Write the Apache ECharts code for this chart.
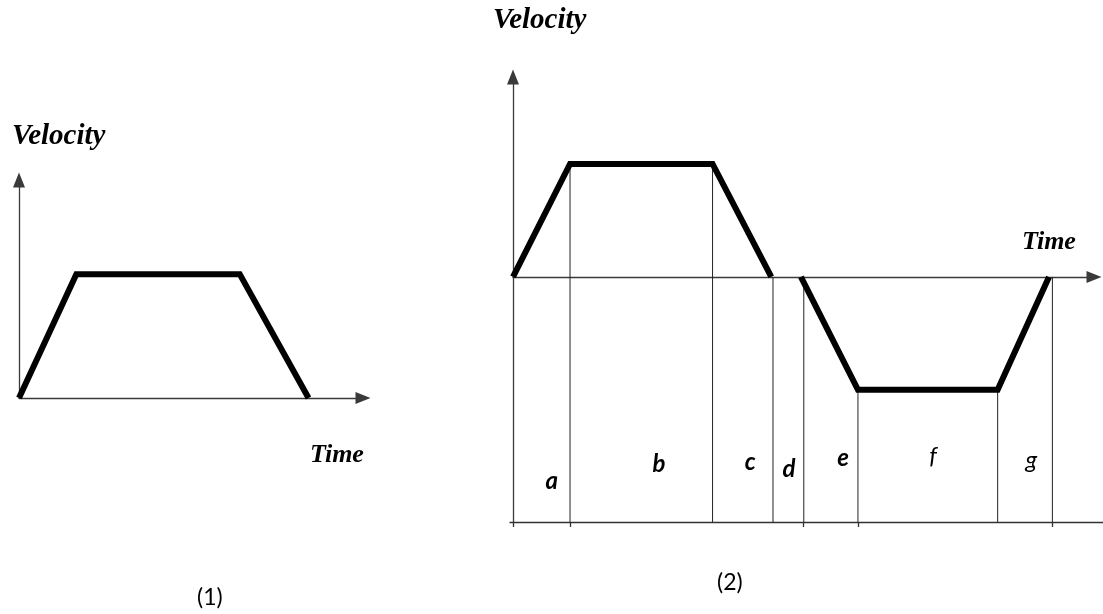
<!DOCTYPE html>
<html>
<head>
<meta charset="utf-8">
<script src="https://cdn.jsdelivr.net/npm/echarts@6/dist/echarts.min.js"></script>
<style>
  html, body { margin: 0; padding: 0; background: #fff; }
  #chart { width: 1103px; height: 614px; }
</style>
</head>
<body>
<div id="chart"></div>
<script>
// profile (1): simple trapezoid
var time1 = [0, 1, 3.85, 5.05];
var vel1 = [0, 1, 1, 0];

// profile (2): forward move then reverse move
var time2 = [0, 1, 3.5, 4.53, '-', 5.05, 6.05, 8.5, 9.4];
var vel2 = [0, 1, 1, 0, '-', 0, -1, -1, 0];

// phase boundaries of profile (2) and where each drop line starts
var phaseT = [1, 3.5, 4.56, 5.1, 6.05, 8.5, 9.46];
var phaseTop = [1, 1, 0, 0, -1, -1, 0];
var tickT = [0, 1, 5.1, 6.05, 9.46];

// phase names and where they sit
var phaseNames = ['a', 'b', 'c', 'd', 'e', 'f', 'g'];
var phaseX = [0.68, 2.56, 4.16, 4.84, 5.79, 7.37, 9.09];
var phaseY = [-1.81, -1.66, -1.64, -1.70, -1.61, -1.59, -1.62];
var phaseBold = [true, true, true, true, true, false, false];

var Y2MIN = -2.17;
var axisGrey = '#3a3a3a';

var myChart = echarts.init(document.getElementById('chart'));

var zip = function(xs, ys) {
    return xs.map(function(x, i) {
        return (x === '-' ? ['-', '-'] : [x, ys[i]]);
    });
};

var arrowAxis = function() {
    return {
        show: true,
        onZero: true,
        symbol: ['none', 'triangle'],
        symbolSize: [12, 15],
        lineStyle: { color: axisGrey, width: 1.3 }
    };
};

var series = [];

series.push({
    type: 'line',
    xAxisIndex: 0, yAxisIndex: 0,
    data: zip(time1, vel1),
    symbol: 'none',
    lineStyle: { color: '#000', width: 6, join: 'miter', cap: 'butt' },
    animation: false
});

series.push({
    type: 'line',
    xAxisIndex: 1, yAxisIndex: 1,
    data: zip(time2, vel2),
    symbol: 'none',
    connectNulls: false,
    lineStyle: { color: '#000', width: 6, join: 'miter', cap: 'butt' },
    animation: false,
    z: 5
});

phaseT.forEach(function(t, i) {
    series.push({
        type: 'line',
        xAxisIndex: 1, yAxisIndex: 1,
        data: [[t, phaseTop[i]], [t, Y2MIN]],
        symbol: 'none',
        lineStyle: { color: '#222', width: 1 },
        animation: false,
        z: 1
    });
});

series.push({
    type: 'scatter',
    xAxisIndex: 1, yAxisIndex: 1,
    symbolSize: 1,
    itemStyle: { color: '#fff', opacity: 1 },
    data: phaseNames.map(function(n, i) {
        return {
            name: n,
            value: [phaseX[i], phaseY[i]],
            label: {
                fontWeight: phaseBold[i] ? 'bold' : 'normal'
            }
        };
    }),
    label: {
        show: true,
        position: 'inside',
        formatter: '{b}',
        color: '#000',
        opacity: 1,
        fontFamily: 'Lato',
        fontStyle: 'italic',
        fontSize: 24
    },
    emphasis: { disabled: true },
    animation: false,
    z: 6
});

var titleStyle = {
    fontFamily: 'Liberation Serif',
    fontStyle: 'italic',
    fontWeight: 'bold',
    fontSize: 26,
    color: '#000'
};
var velStyle = Object.assign({}, titleStyle, { fontSize: 29 });
var capStyle = {
    fontFamily: 'Lato',
    fontWeight: 'normal',
    fontSize: 23,
    color: '#000'
};

var option = {
    backgroundColor: '#fff',
    animation: false,
    title: [
        { text: 'Velocity', left: 12, top: 122, padding: 0, textStyle: velStyle },
        { text: 'Time', left: 310, top: 442, padding: 0, textStyle: titleStyle },
        { text: 'Velocity', left: 493, top: 6, padding: 0, textStyle: velStyle },
        { text: 'Time', left: 1022, top: 229, padding: 0, textStyle: titleStyle },
        { text: '(1)', left: 197, top: 586, padding: 0, textStyle: capStyle },
        { text: '(2)', left: 717, top: 571, padding: 0, textStyle: capStyle }
    ],
    grid: [
        { left: 19, top: 180, width: 344, height: 218 },
        { left: 513, top: 77, width: 581, height: 445 },
        { left: 510, top: 521, width: 593, height: 1 }
    ],
    xAxis: [
        {
            gridIndex: 0, type: 'value', min: 0, max: 6,
            axisLine: arrowAxis(),
            axisTick: { show: false }, axisLabel: { show: false }, splitLine: { show: false }
        },
        {
            gridIndex: 1, type: 'value', min: 0, max: 10.19,
            axisLine: arrowAxis(),
            axisTick: { show: false }, axisLabel: { show: false }, splitLine: { show: false }
        },
        {
            gridIndex: 2, type: 'value', min: -0.053, max: 10.35,
            position: 'bottom',
            axisLine: { show: true, onZero: false, lineStyle: { color: '#333', width: 1.3 } },
            axisTick: { show: true, length: 5, customValues: tickT, lineStyle: { color: '#333', width: 1.3 } },
            axisLabel: { show: false }, splitLine: { show: false }
        }
    ],
    yAxis: [
        {
            gridIndex: 0, type: 'value', min: 0, max: 1.76,
            axisLine: arrowAxis(),
            axisTick: { show: false }, axisLabel: { show: false }, splitLine: { show: false }
        },
        {
            gridIndex: 1, type: 'value', min: Y2MIN, max: 1.77,
            axisLine: arrowAxis(),
            axisTick: { show: false }, axisLabel: { show: false }, splitLine: { show: false }
        },
        {
            gridIndex: 2, type: 'value', show: false
        }
    ],
    series: series
};

myChart.setOption(option);
</script>
</body>
</html>
